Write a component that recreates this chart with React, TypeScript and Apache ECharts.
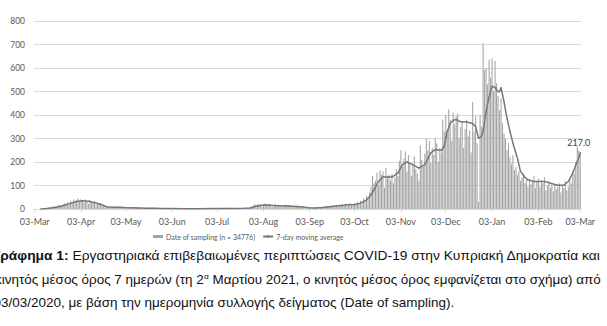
import React, { useEffect, useRef } from "react";
import * as echarts from "echarts";

const START_DATE = "2020-03-03";
const MONTHS = ["Jan", "Feb", "Mar", "Apr", "May", "Jun", "Jul", "Aug", "Sep", "Oct", "Nov", "Dec"];
const Y_TICKS = [0, 100, 200, 300, 400, 500, 600, 700, 800];

const BAR_NAME = "Date of sampling (n = 34776)";
const LINE_NAME = "7-day moving average";
const Y_NAME = "N. of Cases";

// daily confirmed cases by date of sampling, from 03-Mar-2020
const dailyCases = [
  0, 0, 0, 0, 0, 0,
  2, 1, 3, 4, 6, 10, 7,
  12, 9, 14, 18, 12, 15, 20,
  25, 18, 30, 22, 35, 28, 40,
  32, 38, 45, 30,
  42, 36, 28, 40, 33, 22, 38,
  30, 25, 35, 18, 27, 20, 24,
  15, 12, 18, 8, 10, 6, 9,
  7, 8, 5, 10, 6, 4, 9,
  6, 5,
  8, 3, 6, 5, 9, 4, 6,
  3, 5, 7, 4, 2, 6, 3,
  4, 2, 5, 3, 1, 4, 2,
  3, 1, 2, 4, 2, 1, 3,
  2, 1, 2,
  1, 0, 2, 1, 3, 0, 1, 2, 1, 0, 4, 2, 1, 0, 1, 2, 0, 1, 3, 1, 0, 2, 1, 0, 1, 2, 1, 0, 3, 1,
  2, 1, 3, 2, 1, 4, 2, 1, 3, 5, 2, 1, 3, 2, 4, 1, 2, 3, 1, 5, 2, 3, 4, 6,
  12, 20, 15, 18, 22, 14, 10,
  18, 25, 16, 12, 20, 14, 9,
  15, 22, 13, 18, 11, 16, 8,
  14, 19, 12, 17, 10, 13, 7,
  12, 16, 9, 11, 7, 10, 5,
  8, 6, 4,
  5, 3, 6, 4, 2, 5, 3,
  6, 4, 8, 10, 7, 12, 9,
  14, 10, 16, 12, 18, 9, 15,
  20, 14, 17, 22, 12, 19, 24,
  16, 21,
  25, 18, 30, 22, 35, 28, 45,
  38, 55, 48, 70, 95, 140, 110,
  120, 155, 100, 165, 145, 160, 90,
  175, 130, 145, 120, 150, 110, 135,
  170, 140, 205,
  250, 180, 215, 245, 160, 230, 195,
  140, 190, 225, 170, 150, 120, 270,
  210, 180, 235, 300, 250, 290, 195,
  260, 230, 300, 280, 200, 260, 240,
  380, 330,
  400, 320, 425, 380, 290, 410, 360,
  395, 405, 300, 350, 370, 260, 340,
  380, 310, 335, 240, 455, 330, 395,
  280, 30, 400, 350, 705, 590, 600,
  530, 635, 560,
  640, 500, 630, 535, 480, 420, 470,
  365, 320, 300, 250, 280, 220, 190,
  230, 165, 180, 145, 160, 120, 135,
  150, 110, 125, 95, 130, 105, 120,
  140, 90, 115,
  130, 95, 125, 110, 135, 80, 100,
  120, 90, 110, 75, 105, 85, 95,
  110, 70, 100, 90, 120, 80, 95,
  130, 110, 160, 150, 200, 265, 250, 240,
];

// 7-day moving average: day offset from 03-Mar-2020 and value
const maDays = [
  4, 8, 12, 16, 20, 24, 28, 32, 36, 40, 44, 48, 52, 56, 60, 65, 70, 75, 80, 85, 90, 100, 110, 120,
  130, 140, 144, 148, 152, 156, 160, 165, 170, 175, 180, 184, 188, 192, 196, 200, 205, 210, 214,
  218, 222, 225, 227, 230, 233, 236, 239, 243, 246, 249, 253, 257, 261, 265, 268, 272, 274, 276,
  278, 280, 282, 285, 289, 293, 295, 297, 299, 300, 302, 304, 306, 308, 310, 311, 312, 314, 316,
  318, 320, 323, 325, 328, 330, 334, 338, 341, 345, 350, 354, 357, 360, 363, 364, 365,
];
const maValues = [
  0, 2, 5, 10, 16, 24, 32, 35, 33, 27, 20, 10, 7, 7, 6, 5, 4, 3, 3, 2, 2, 1, 1, 2,
  2, 3, 4, 12, 16, 17, 15, 14, 13, 11, 8, 5, 4, 6, 9, 12, 15, 18, 19,
  25, 39, 60, 81, 117, 136, 136, 136, 153, 189, 200, 189, 174, 189, 239, 253, 249, 267, 330,
  365, 378, 381, 371, 370, 364, 350, 300, 310, 329, 414, 477, 523, 517, 500, 499, 517, 456, 385,
  330, 279, 215, 160, 135, 124, 117, 117, 117, 110, 101, 101, 117, 153, 203, 217, 240,
];
const LABELLED_MA_DAY = 364;

const captionBold = "Γράφημα 1:";
const captionLine1 = "Εργαστηριακά επιβεβαιωμένες περιπτώσεις COVID-19 στην Κυπριακή Δημοκρατία και";
const captionLine2a = "κινητός μέσος όρος 7 ημερών (τη 2";
const captionSup = "α";
const captionLine2b = " Μαρτίου 2021, ο κινητός μέσος όρος εμφανίζεται στο σχήμα) από";
const captionLine3 = "03/03/2020, με βάση την ημερομηνία συλλογής δείγματος (Date of sampling).";

function dateAt(offset: number): string {
  const d = new Date(START_DATE + "T00:00:00Z");
  d.setUTCDate(d.getUTCDate() + offset);
  return d.toISOString().slice(0, 10);
}

function fmt(iso: string): string {
  const [, m, d] = iso.split("-");
  return d + "-" + MONTHS[parseInt(m, 10) - 1];
}

export default function App() {
  const ref = useRef<HTMLDivElement>(null);
  useEffect(() => {
    if (!ref.current) return;
    const chart = echarts.init(ref.current, undefined, { renderer: "svg" });
    const cats = dailyCases.map((_, i) => dateAt(i));
    const isThird = (_i: number, v: string) => v.slice(8, 10) === "03";
    const maData = maDays.map((d, i) => {
      const item: any = { value: [dateAt(d), maValues[i]] };
      if (d === LABELLED_MA_DAY) {
        item.label = {
          show: true,
          position: "top",
          distance: 11,
          formatter: (p: any) => Number(p.value[1]).toFixed(1),
          color: "#404040",
          fontSize: 9,
          fontFamily: "Lato",
        };
      }
      return item;
    });
    const font = "Liberation Sans";
    const fs = 12;
    chart.setOption({
      animation: false,
      backgroundColor: "#ffffff",
      grid: { left: 34, right: 26, top: 21, bottom: 117, containLabel: false, outerBoundsMode: "none" },
      legend: {
        left: 153,
        top: 233,
        padding: 0,
        itemWidth: 10,
        itemHeight: 3,
        itemGap: 7,
        textStyle: { color: "#595959", fontSize: 7, fontFamily: "Lato", padding: [0, 0, 0, -2] },
        data: [{ name: BAR_NAME, icon: "rect" }, { name: LINE_NAME }],
      },
      xAxis: {
        type: "category",
        data: cats,
        boundaryGap: true,
        axisLine: { show: true, lineStyle: { color: "#d9d9d9", width: 1 } },
        axisTick: { show: true, interval: isThird, alignWithLabel: true, length: 3, lineStyle: { color: "#d9d9d9" } },
        axisLabel: {
          interval: isThird,
          formatter: (v: string) => fmt(v),
          color: "#595959",
          fontSize: 9,
          fontFamily: "Lato",
          margin: 8,
        },
        splitLine: { show: false },
      },
      yAxis: {
        type: "value",
        min: Y_TICKS[0],
        max: Y_TICKS[Y_TICKS.length - 1],
        interval: Y_TICKS[1] - Y_TICKS[0],
        name: Y_NAME,
        nameLocation: "middle",
        nameRotate: 90,
        nameGap: 29,
        nameTextStyle: { color: "#595959", fontSize: 8, fontFamily: "Lato" },
        axisLine: { show: false },
        axisTick: { show: false },
        axisLabel: { color: "#595959", fontSize: 8.5, fontFamily: "Lato", margin: 9 },
        splitLine: { lineStyle: { color: "#d9d9d9", width: 1 } },
      },
      series: [
        {
          name: BAR_NAME,
          type: "bar",
          data: dailyCases,
          barCategoryGap: "30%",
          itemStyle: { color: "#a3a3a3" },
        },
        {
          name: LINE_NAME,
          type: "line",
          data: maData,
          symbol: "circle",
          symbolSize: 1,
          showSymbol: true,
          showAllSymbol: true,
          lineStyle: { color: "#777777", width: 1.5 },
          itemStyle: { color: "#777777" },
          z: 3,
        },
      ],
      graphic: [
        {
          type: "text",
          x: -8,
          y: 256,
          scaleX: 1.15,
          style: {
            text: "{b|" + captionBold + "} " + captionLine1,
            fontFamily: font,
            fontSize: fs,
            verticalAlign: "middle",
            fill: "#111",
            rich: { b: { fontWeight: "bold", fontFamily: font, fontSize: fs, fill: "#111" } },
          },
        },
        {
          type: "text",
          x: -5,
          y: 280,
          scaleX: 1.12,
          style: {
            text: captionLine2a + "{s|" + captionSup + "}" + captionLine2b,
            fontFamily: font,
            fontSize: fs,
            lineHeight: 14,
            verticalAlign: "middle",
            fill: "#111",
            rich: { s: { fontSize: 7.5, fontFamily: font, verticalAlign: "top", lineHeight: 14, fill: "#111" } },
          },
        },
        {
          type: "text",
          x: -6.5,
          y: 303,
          scaleX: 1.125,
          style: { text: captionLine3, fontFamily: font, fontSize: fs, verticalAlign: "middle", fill: "#111" },
        },
      ],
    });
    return () => chart.dispose();
  }, []);
  return <div ref={ref} style={{ position: "absolute", left: 0, top: 0, width: 607, height: 326 }} />;
}
